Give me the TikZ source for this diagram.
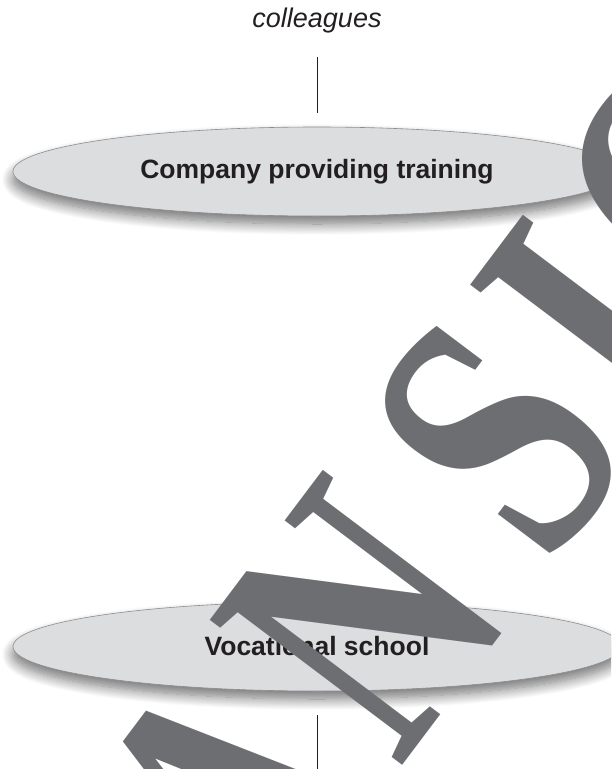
\documentclass[tikz,border=0pt]{standalone}
\usepackage{fontspec}
\setsansfont{Liberation Sans}
\newfontfamily\markfont{Liberation Serif}
\usetikzlibrary{shapes.geometric,shadows.blur}
\definecolor{fillgray}{HTML}{DCDDDF}
\definecolor{edgegray}{HTML}{8C8D90}
\definecolor{inkblack}{HTML}{231F20}
\definecolor{markgray}{HTML}{6D6E71}
\tikzset{
  place/.style={ellipse, draw=edgegray, line width=0.6pt, fill=fillgray,
    minimum width=608pt, minimum height=89pt, inner sep=0pt, text=inkblack,
    font=\sffamily\bfseries\fontsize{26.5}{30}\selectfont,
    blur shadow={shadow xshift=0pt, shadow yshift=-8pt, shadow blur radius=11pt,
      shadow blur steps=14, shadow opacity=55}},
  link/.style={draw=inkblack, line width=1pt},
  stamp/.style={rotate=53, xscale=0.74, inner sep=0pt, text=markgray,
    font=\markfont\bfseries\fontsize{368}{368}\selectfont}
}
\begin{document}
\begin{tikzpicture}[x=1pt, y=-1pt]
\useasboundingbox (0,0) rectangle (611,769);
\clip (0,0) rectangle (611,769);
% boxes
\node[inner sep=0pt, text=inkblack, font=\sffamily\itshape\fontsize{27}{30}\selectfont] (colleagues) at (317,21) {colleagues};
\node[place] (company) at (317,171.5) {Company providing training};
\node[place] (school) at (317,646.5) {Vocational school};
\coordinate (below) at (317,780);
% links
\draw[link, shorten <=23pt, shorten >=14pt] (colleagues) -- (company);
\draw[link, shorten <=24pt] (school) -- (below);
% stamp letters
\node[stamp] (stampA) at (232,800) {A};
\node[stamp] (stampN) at (362,618) {N};
\node[stamp] (stampS) at (498,438) {S};
\node[stamp] (stampI) at (593,323) {I};
\node[stamp] (stampO) at (701,180) {O};
\end{tikzpicture}
\end{document}
